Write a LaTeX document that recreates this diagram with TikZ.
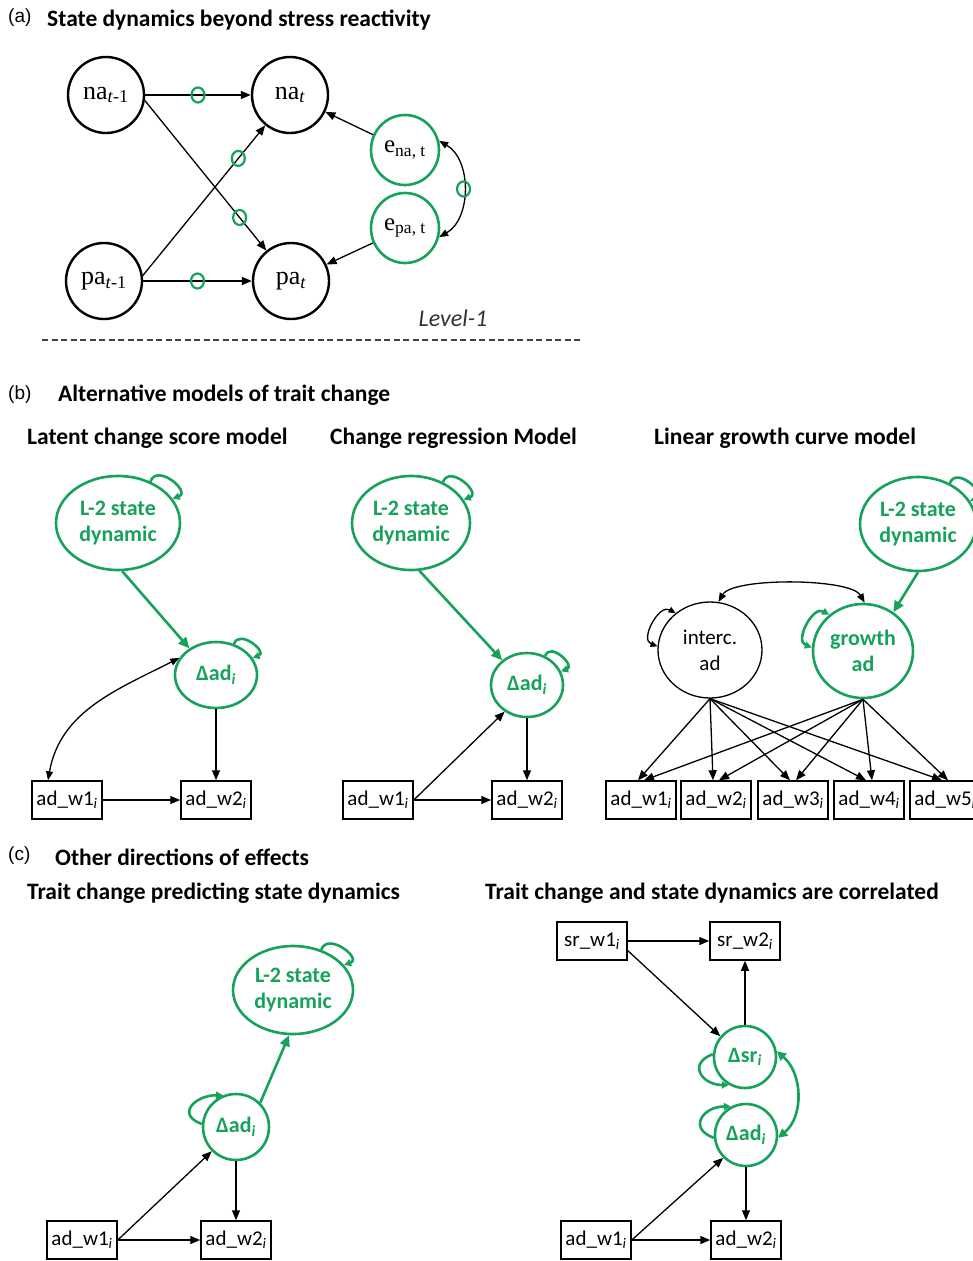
\documentclass[tikz,border=0pt]{standalone}
\usepackage{fontspec}
\setmainfont{Carlito}
\newfontfamily\arialf{Liberation Sans}
\newfontfamily\serf{Liberation Serif}
\usetikzlibrary{arrows.meta,shapes.geometric}
\definecolor{sgreen}{RGB}{22,162,90}
\tikzset{
  acirc/.style={circle,draw,line width=2.4pt,minimum size=76pt,inner sep=0pt,font=\serf\fontsize{26}{28}\selectfont},
  ecirc/.style={ellipse,draw=sgreen,line width=2.6pt,minimum width=68pt,minimum height=70pt,inner sep=0pt,font=\serf\fontsize{25}{27}\selectfont},
  mini/.style={ellipse,draw=sgreen,line width=2.2pt,minimum width=13pt,minimum height=15pt,inner sep=0pt},
  gnode/.style={ellipse,draw=sgreen,line width=2.6pt,inner sep=0pt,align=center,text=sgreen,font=\bfseries\fontsize{22}{26}\selectfont},
  knode/.style={ellipse,draw,line width=1.3pt,inner sep=0pt,align=center,font=\fontsize{21}{26}\selectfont},
  obs/.style={rectangle,draw,line width=1.5pt,minimum height=38pt,minimum width=70pt,inner xsep=2pt,inner ysep=0pt,font=\fontsize{21}{22}\selectfont},
  arr/.style={line width=1.3pt,-{Triangle[length=10pt,width=8pt]}},
  darr/.style={line width=1.3pt,{Triangle[length=9pt,width=7pt]}-{Triangle[length=9pt,width=7pt]}},
  garr/.style={draw=sgreen,line width=2.6pt,-{Triangle[length=11pt,width=10pt]}},
  gdarr/.style={draw=sgreen,line width=2.6pt,{Triangle[length=9pt,width=9pt]}-{Triangle[length=9pt,width=9pt]}},
  gloop/.style={draw=sgreen,line width=2.6pt,-{Triangle[length=7pt,width=7pt]}},
  gdloop/.style={draw=sgreen,line width=2.6pt,{Triangle[length=7pt,width=7pt]}-{Triangle[length=7pt,width=7pt]}},
  kloop/.style={line width=1.3pt,{Triangle[length=7pt,width=6pt]}-{Triangle[length=7pt,width=6pt]}},
  ttl/.style={anchor=west,inner sep=0pt,font=\bfseries\fontsize{23.5}{26}\selectfont},
  plabel/.style={anchor=west,inner sep=0pt,font=\arialf\fontsize{19}{22}\selectfont},
  sep/.style={line width=1.4pt,black!75,dash pattern=on 6pt off 3.5pt},
}
\begin{document}
\begin{tikzpicture}[x=1pt,y=1pt]
\path[use as bounding box,fill=white] (0,0) rectangle (973,-1261);

% ---------- (a)
\node[plabel] (la) at (8,-18) {(a)};
\node[ttl] (ta) at (47,-20) {State dynamics beyond stress reactivity};
\node[acirc] (na1) at (106,-95) {na\textsubscript{\textit{t}-1}};
\node[acirc] (nat) at (290,-95) {na\textsubscript{\textit{t}}};
\node[acirc] (pa1) at (104,-281) {pa\textsubscript{\textit{t}-1}};
\node[acirc] (pat) at (291,-281) {pa\textsubscript{\textit{t}}};
\node[ecirc] (ena) at (405,-150) {e\textsubscript{na, t}};
\node[ecirc] (epa) at (405,-228) {e\textsubscript{pa, t}};
\draw[arr] (na1.east) -- (nat.west) node[mini,pos=0.5]{};
\draw[arr] (na1.-8) -- (pat) node[mini,pos=0.78]{};
\draw[arr] (pa1.8) -- (nat) node[mini,pos=0.78]{};
\draw[arr] (pa1.east) -- (pat.west) node[mini,pos=0.5]{};
\draw[arr] (ena) -- (nat);
\draw[arr] (epa) -- (pat);
\draw[darr] (ena.15) to[out=-30,in=30] node[mini,pos=0.5]{} (epa.-15);
\node[font=\itshape\fontsize{24}{26}\selectfont,text=black!80] (lv) at (453,-318) {Level-1};
\coordinate (dl) at (42,-340);
\coordinate (dr) at (582,-340);
\draw[sep] (dl) -- (dr);

% ---------- (b)
\node[plabel] (lb) at (8,-395) {(b)};
\node[ttl] (tb) at (58,-395) {Alternative models of trait change};
\node[ttl] (sb1) at (27,-438) {Latent change score model};
\node[ttl] (sb2) at (330,-438) {Change regression Model};
\node[ttl] (sb3) at (654,-438) {Linear growth curve model};

% b1
\node[gnode,minimum width=124pt,minimum height=94pt] (L2a) at (118,-523) {L-2 state\\dynamic};
\node[gnode,minimum width=82pt,minimum height=66pt] (dA) at (216,-675) {Δad\textsubscript{\textit{i}}};
\node[obs] (a1) at (67,-800) {ad\_w1\textsubscript{\textit{i}}};
\node[obs] (a2) at (216,-800) {ad\_w2\textsubscript{\textit{i}}};
\draw[garr] (L2a.-85) -- (dA.135);
\draw[gloop] (L2a.52) to[out=70,in=20,looseness=1.8] (L2a.24);
\draw[gloop] (dA.60) to[out=70,in=20,looseness=1.8] (dA.25);
\draw[arr] (a1) -- (a2);
\draw[arr] (dA.south) -- (a2.north);
\draw[darr] ([xshift=-19pt]a1.north) to[out=80,in=207] (dA.155);

% b2
\node[gnode,minimum width=118pt,minimum height=94pt] (L2b) at (411,-523) {L-2 state\\dynamic};
\node[gnode,minimum width=72pt,minimum height=64pt] (dB) at (527,-685) {Δad\textsubscript{\textit{i}}};
\node[obs] (b1) at (378,-800) {ad\_w1\textsubscript{\textit{i}}};
\node[obs] (b2) at (527,-800) {ad\_w2\textsubscript{\textit{i}}};
\draw[garr] (L2b.-80) -- (dB.135);
\draw[gloop] (L2b.52) to[out=70,in=20,looseness=1.8] (L2b.24);
\draw[gloop] (dB.58) to[out=70,in=20,looseness=1.8] (dB.22);
\draw[arr] (b1) -- (b2);
\draw[arr] (b1.east) -- (dB.-130);
\draw[arr] (dB.south) -- (b2.north);

% b3
\node[gnode,minimum width=116pt,minimum height=94pt] (L2c) at (918,-524) {L-2 state\\dynamic};
\node[knode,minimum width=104pt,minimum height=96pt] (ic) at (710,-650) {interc.\\ad};
\node[gnode,minimum width=100pt,minimum height=94pt] (gr) at (863,-651) {growth\\ad};
\node[obs] (g1) at (641,-800) {ad\_w1\textsubscript{\textit{i}}};
\node[obs] (g2) at (716,-800) {ad\_w2\textsubscript{\textit{i}}};
\node[obs] (g3) at (793,-800) {ad\_w3\textsubscript{\textit{i}}};
\node[obs] (g4) at (869,-800) {ad\_w4\textsubscript{\textit{i}}};
\node[obs] (g5) at (945,-800) {ad\_w5\textsubscript{\textit{i}}};
\foreach \n in {1,...,5}{
  \draw[arr] (ic.south) -- ([xshift=-3pt]g\n.north);
  \draw[arr] (gr.south) -- ([xshift=3pt]g\n.north);
}
\draw[darr] (ic.80) to[out=60,in=120,looseness=0.5] (gr.88);
\draw[kloop] (ic.133) to[out=150,in=160,looseness=1.3] (ic.176);
\draw[gdloop] (gr.133) to[out=150,in=160,looseness=1.3] (gr.176);
\draw[gloop] (L2c.52) to[out=70,in=20,looseness=1.8] (L2c.24);
\draw[garr] (L2c.-90) -- (gr.52);

% ---------- (c)
\node[plabel] (lc) at (8,-856) {(c)};
\node[ttl] (tc) at (55,-857) {Other directions of effects};
\node[ttl] (sc1) at (27,-893) {Trait change predicting state dynamics};
\node[ttl] (sc2) at (485,-893) {Trait change and state dynamics are correlated};

% c1
\node[gnode,minimum width=120pt,minimum height=88pt] (L2d) at (293,-990) {L-2 state\\dynamic};
\node[gnode,minimum width=66pt,minimum height=66pt] (dC) at (236,-1127) {Δad\textsubscript{\textit{i}}};
\node[obs] (c1) at (82,-1240) {ad\_w1\textsubscript{\textit{i}}};
\node[obs] (c2) at (236,-1240) {ad\_w2\textsubscript{\textit{i}}};
\draw[garr] (dC.45) -- (L2d.-95);
\draw[gloop] (L2d.55) to[out=70,in=20,looseness=1.8] (L2d.26);
\draw[gloop] (dC.175) to[out=160,in=180,looseness=2] (dC.112);
\draw[arr] (c1) -- (c2);
\draw[arr] (c1.east) -- (dC.-135);
\draw[arr] (dC.south) -- (c2.north);

% c2
\node[obs] (s1) at (592,-941) {sr\_w1\textsubscript{\textit{i}}};
\node[obs] (s2) at (745,-941) {sr\_w2\textsubscript{\textit{i}}};
\node[gnode,minimum width=62pt,minimum height=62pt] (dS) at (745,-1057) {Δsr\textsubscript{\textit{i}}};
\node[gnode,minimum width=62pt,minimum height=62pt] (dD) at (746,-1135) {Δad\textsubscript{\textit{i}}};
\node[obs] (d1) at (596,-1240) {ad\_w1\textsubscript{\textit{i}}};
\node[obs] (d2) at (746,-1240) {ad\_w2\textsubscript{\textit{i}}};
\draw[arr] (s1) -- (s2);
\draw[arr] (s1.-15) -- (dS.140);
\draw[arr] (dS.north) -- (s2.south);
\draw[arr] (d1) -- (d2);
\draw[arr] (d1.east) -- (dD.-135);
\draw[arr] (dD.south) -- (d2.north);
\draw[gdarr] (dS.10) to[out=-40,in=40] (dD.-5);
\draw[gloop] (dS.175) to[out=200,in=180,looseness=2] (dS.240);
\draw[gloop] (dD.185) to[out=160,in=180,looseness=2] (dD.118);
\end{tikzpicture}
\end{document}
